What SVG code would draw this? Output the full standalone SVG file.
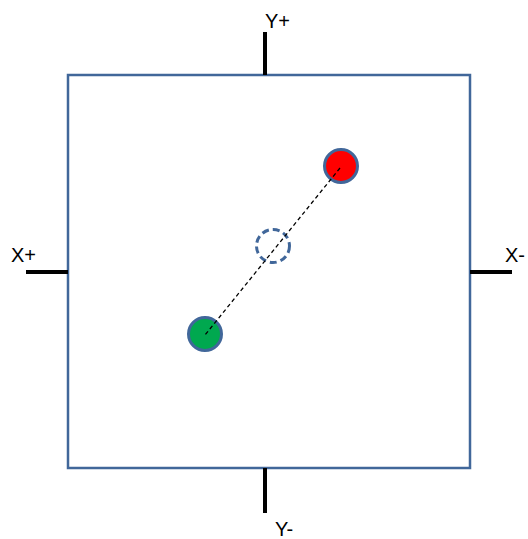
<svg xmlns="http://www.w3.org/2000/svg" width="528" height="539" viewBox="0 0 528 539">
<style>
.lbl{font-family:"Liberation Sans",Arial,sans-serif;font-size:20px;fill:#000}
.tick{stroke:#000;stroke-width:4}
.dot{stroke:#41679a;stroke-width:3}
</style>
<rect width="528" height="539" fill="#fff"/>
<g id="frame">
<rect x="68" y="75" width="402" height="393" fill="none" stroke="#41679a" stroke-width="2.5"/>
</g>
<g id="axes">
<line class="tick" x1="265" y1="32" x2="265" y2="75"/>
<line class="tick" x1="265" y1="468" x2="265" y2="513"/>
<line class="tick" x1="26" y1="272" x2="68" y2="272"/>
<line class="tick" x1="470" y1="272" x2="512" y2="272"/>
<text class="lbl" x="265" y="28">Y+</text>
<text class="lbl" x="275" y="536">Y-</text>
<text class="lbl" x="11" y="262">X+</text>
<text class="lbl" x="505" y="262">X-</text>
</g>
<g id="red">
<circle class="dot" cx="341" cy="166" r="16.5" fill="#ff0000"/>
</g>
<g id="green">
<circle class="dot" cx="205" cy="334" r="16.5" fill="#00a84f"/>
</g>
<g id="center">
<circle cx="273" cy="246" r="16.5" fill="none" stroke="#41679a" stroke-width="3" stroke-dasharray="7,4"/>
</g>
<g id="connectors">
<line x1="340" y1="168" x2="205" y2="335" stroke="#000" stroke-width="1.3" stroke-dasharray="4,3"/>
</g>
</svg>
